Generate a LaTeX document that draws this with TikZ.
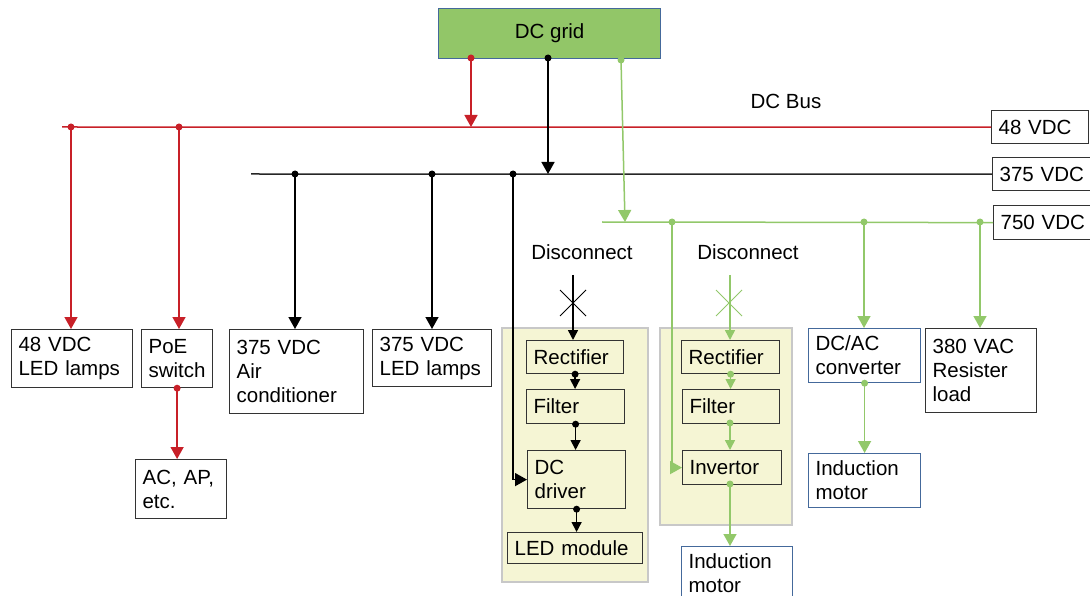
\documentclass[tikz,border=0pt]{standalone}
\usepackage{fontspec}
\setmainfont{Liberation Sans}
\usetikzlibrary{arrows.meta}
\definecolor{busred}{RGB}{200,32,40}
\definecolor{busgreen}{RGB}{146,200,106}
\definecolor{gridgreen}{RGB}{146,198,104}
\definecolor{boxblue}{RGB}{68,105,155}
\definecolor{modfill}{RGB}{245,245,212}
\definecolor{modgray}{RGB}{200,200,200}

\begin{document}
\begin{tikzpicture}[x=1pt, y=-1pt, >={Triangle[length=12pt,width=13pt]},
    every node/.style={font=\fontsize{20.5}{24}\selectfont},
    box/.style={draw=black!80, line width=1.2pt, anchor=north west, align=left, inner xsep=7pt, inner ysep=0pt},
    bluebox/.style={box, draw=boxblue},
    dot/.style={circle, fill, inner sep=0pt, minimum size=7pt},
    bus/.style={line width=1.5pt},
    small/.style={>={Triangle[length=10pt,width=10pt]}}]
    \useasboundingbox (0,0) rectangle (1090,596);
    \clip (0,0) rectangle (1090,596);

    % converter modules
    \filldraw[fill=modfill, draw=modgray, line width=1.2pt] (502,328) rectangle (648,582);
    \filldraw[fill=modfill, draw=modgray, line width=1.2pt] (660,328) rectangle (792,525);

    \node[draw=boxblue, fill=gridgreen, line width=1.2pt, minimum width=222pt, minimum height=50pt, anchor=north west] (grid) at (438,8) {DC grid};
    \node (busname) at (786,101) {DC Bus};

    \node[box, text width=83pt, minimum height=33pt] (v48) at (991,110) {48 VDC};
    \node[box, text width=86pt, minimum height=33pt] (v375) at (992,157) {375 VDC};
    \node[box, text width=86pt, minimum height=34pt] (v750) at (993,205) {750 VDC};

    \node[box, text width=107pt, minimum height=58pt] (lamps48) at (11,329) {48 VDC\\LED lamps};
    \node[box, text width=57pt, minimum height=58pt] (poe) at (141,329) {PoE\\switch};
    \node[box, text width=77pt, minimum height=59pt] (acap) at (135,459) {AC, AP,\\etc.};
    \node[box, text width=120pt, minimum height=84pt] (aircon) at (229,329) {375 VDC\\Air\\conditioner};
    \node[box, text width=105pt, minimum height=57pt] (lamps375) at (372,329) {375 VDC\\LED lamps};

    \node (disc1) at (582,252) {Disconnect};
    \node[box, text width=83pt, minimum height=33pt] (rect1) at (526,340) {Rectifier};
    \node[box, text width=84pt, minimum height=34pt] (filt1) at (526,389) {Filter};
    \node[box, text width=84pt, minimum height=58pt] (drv) at (527,450) {DC\\driver};
    \node[box, text width=121pt, minimum height=31pt] (led) at (507,532) {LED module};

    \node (disc2) at (748,252) {Disconnect};
    \node[box, text width=84pt, minimum height=33pt] (rect2) at (681,340) {Rectifier};
    \node[box, text width=83pt, minimum height=34pt] (filt2) at (682,389) {Filter};
    \node[box, text width=85pt, minimum height=34pt] (inv) at (682,450) {Invertor};
    \node[bluebox, text width=97pt, minimum height=53pt] (mot1) at (681,546) {Induction\\motor};

    \node[bluebox, text width=98pt, minimum height=54pt] (dcac) at (808,328) {DC/AC\\converter};
    \node[box, text width=97pt, minimum height=84pt] (vac) at (925,328) {380 VAC\\Resister\\load};
    \node[bluebox, text width=98pt, minimum height=54pt] (mot2) at (808,453) {Induction\\motor};

    % buses
    \coordinate (r0) at (62,127);
    \coordinate (k0) at (251,174);
    \coordinate (g0) at (602,222);
    \draw[bus, busred] (r0) -- (v48.west);
    \draw[bus, black!85] (k0) -- (v375.west);
    \draw[bus, busgreen] (g0) -- (v750.west);

    % feeds from the grid
    \node[dot, busred] (gr) at (471,58) {};
    \node[dot, black] (gk) at (548,58) {};
    \node[dot, busgreen] (gg) at (621,60) {};
    \coordinate (rin) at (471,127);
    \coordinate (kin) at (548,174);
    \coordinate (gin) at (625,222);
    \draw[->, bus, busred] (gr.center) -- (rin);
    \draw[->, bus, black] (gk.center) -- (kin);
    \draw[->, bus, busgreen] (gg.center) -- (gin);

    % 48 VDC loads
    \node[dot, busred] (r1) at (71,127) {};
    \node[dot, busred] (r2) at (179,127) {};
    \node[dot, busred] (pd) at (poe.south) {};
    \draw[->, bus, busred] (r1.center) -- (r1 |- lamps48.north);
    \draw[->, bus, busred] (r2.center) -- (r2 |- poe.north);
    \draw[->, bus, busred] (pd.center) -- (pd |- acap.north);

    % 375 VDC loads
    \node[dot] (k1) at (295,174) {};
    \node[dot] (k2) at (432,174) {};
    \node[dot] (k3) at (513,174) {};
    \draw[->, bus] (k1.center) -- (k1 |- aircon.north);
    \draw[->, bus] (k2.center) -- (k2 |- lamps375.north);
    \draw[->, bus] (k3.center) |- (drv.west);

    % LED driver chain
    \coordinate (sw1) at (573,275);
    \draw[->, bus, small] (sw1) -- (sw1 |- rect1.north);
    \draw[line width=1pt] (560,290) -- (586,316) (586,290) -- (560,316);
    \node[dot] (d1) at (rect1.south) {};
    \node[dot] (d2) at (filt1.south) {};
    \node[dot] (d3) at (drv.south) {};
    \draw[->, bus, small] (d1.center) -- (d1 |- filt1.north);
    \draw[->, bus, small] (d2.center) -- (d2 |- drv.north);
    \draw[->, bus, small] (d3.center) -- (d3 |- led.north);

    % 750 VDC loads
    \node[dot, busgreen] (g1) at (672,222) {};
    \node[dot, busgreen] (g2) at (864,222) {};
    \node[dot, busgreen] (g3) at (980,222) {};
    \draw[->, bus, busgreen] (g1.center) |- (inv.west);
    \draw[->, bus, busgreen] (g2.center) -- (g2 |- dcac.north);
    \draw[->, bus, busgreen] (g3.center) -- (g3 |- vac.north);
    \node[dot, busgreen] (cd) at (dcac.south) {};
    \draw[->, bus, busgreen] (cd.center) -- (cd |- mot2.north);

    % motor drive chain
    \coordinate (sw2) at (730,275);
    \draw[->, bus, busgreen, small] (sw2) -- (sw2 |- rect2.north);
    \draw[line width=1pt, busgreen] (716,290) -- (742,316) (742,290) -- (716,316);
    \node[dot, busgreen] (e1) at (rect2.south) {};
    \node[dot, busgreen] (e2) at (730,423) {};
    \node[dot, busgreen] (e3) at (730,484) {};
    \draw[->, bus, busgreen, small] (e1.center) -- (e1 |- filt2.north);
    \draw[->, bus, busgreen, small] (e2.center) -- (e2 |- inv.north);
    \draw[->, bus, busgreen] (e3.center) -- (e3 |- mot1.north);
\end{tikzpicture}
\end{document}
